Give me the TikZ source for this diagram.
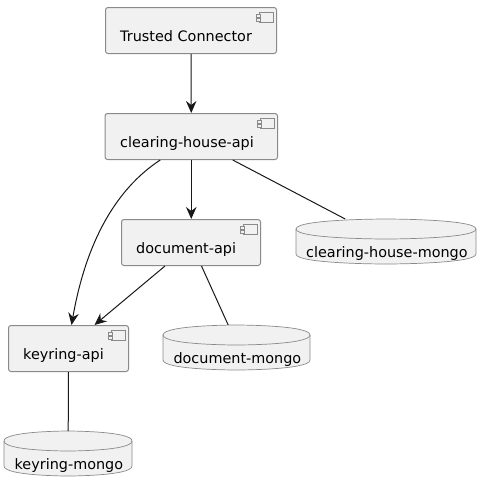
\documentclass[tikz,border=0pt]{standalone}
\usepackage{fontspec}
\setmainfont{DejaVu Sans}
\usetikzlibrary{arrows.meta}
\definecolor{boxfill}{HTML}{F1F1F1}
\definecolor{edgecol}{HTML}{181818}
\definecolor{boxline}{HTML}{8A8A8A}
\tikzset{
  x=1pt,y=-1pt,
  labeltext/.style={inner sep=0pt,font=\fontsize{14.4}{16}\selectfont},
  comp/.style={draw=boxline,fill=boxfill,rounded corners=2.5pt,line width=1pt,inner sep=0pt,anchor=north west},
  iconline/.style={draw=boxline,fill=boxfill,line width=.8pt},
  dbline/.style={draw=boxline,fill=boxfill,line width=.7pt},
  conn/.style={draw=edgecol,line width=1pt},
  arrowconn/.style={conn,-{Stealth[length=12pt,width=10.5pt,inset=4pt]}},
}
% \compbox{name}{x}{y}{w}{text dx}{text}
\newcommand{\compbox}[6]{%
  \node[comp,minimum width=#4pt,minimum height=46pt] (#1) at (#2,#3) {};
  \node[labeltext,anchor=base west] at ([xshift=#5pt,yshift=-10.5pt]#1.west) {#6};
  \path[iconline] ([xshift=-18pt,yshift=-5pt]#1.north east) rectangle ([xshift=-4pt,yshift=-15pt]#1.north east);
  \path[iconline] ([xshift=-20.5pt,yshift=-7.5pt]#1.north east) rectangle ([xshift=-16.5pt,yshift=-10pt]#1.north east);
  \path[iconline] ([xshift=-20.5pt,yshift=-11.5pt]#1.north east) rectangle ([xshift=-16.5pt,yshift=-14pt]#1.north east);
}
% \dbshape{name}{x}{y}{w}{text}
\newcommand{\dbshape}[5]{%
  \node[minimum width=#4pt,minimum height=45pt,inner sep=0pt,anchor=north west] (#1) at (#2,#3) {};
  \begin{scope}[shift={(#2,#3)}]
  \path[dbline] (0,10) .. controls (0,0) and ({#4*.5},0) .. ({#4*.5},0)
     .. controls ({#4*.5},0) and (#4,0) .. (#4,10)
     -- (#4,35) .. controls (#4,45) and ({#4*.5},45) .. ({#4*.5},45)
     .. controls ({#4*.5},45) and (0,45) .. (0,35) -- cycle;
  \path[dbline,fill=none] (0,10) .. controls (0,20) and ({#4*.5},20) .. ({#4*.5},20)
     .. controls ({#4*.5},20) and (#4,20) .. (#4,10);
  \end{scope}
  \node[labeltext,anchor=base] at ([xshift=.7pt,yshift=-15.5pt]#1.center) {#5};
}
\begin{document}
\begin{tikzpicture}
\useasboundingbox (0,0) rectangle (489,488);
\compbox{tc}{105}{7}{171}{15}{Trusted Connector}
\compbox{cha}{104.5}{113}{172.5}{15.5}{clearing-house-api}
\compbox{doc}{121}{219}{139}{15}{document-api}
\compbox{key}{8}{325}{120}{15}{keyring-api}
\dbshape{chm}{296}{219}{180}{clearing-house-mongo}
\dbshape{dm}{163}{325}{147}{document-mongo}
\dbshape{km}{4}{431}{128}{keyring-mongo}
\draw[arrowconn] (tc.south) -- (cha.north);
\draw[arrowconn] (cha.south) -- (doc.north -| cha.south);
\draw[conn] ([xshift=41.5pt]cha.south) -- ([xshift=-41pt]chm.north);
\draw[arrowconn] ([xshift=-31pt]cha.south) .. controls +(-55,36) and +(11,-63) .. ([xshift=3pt]key.north);
\draw[arrowconn] ([xshift=-26pt]doc.south) -- ([xshift=26pt]key.north);
\draw[conn] ([xshift=10.5pt]doc.south) -- ([xshift=-8.5pt]dm.north);
\draw[conn] (key.south) -- (km.north);
\end{tikzpicture}
\end{document}
